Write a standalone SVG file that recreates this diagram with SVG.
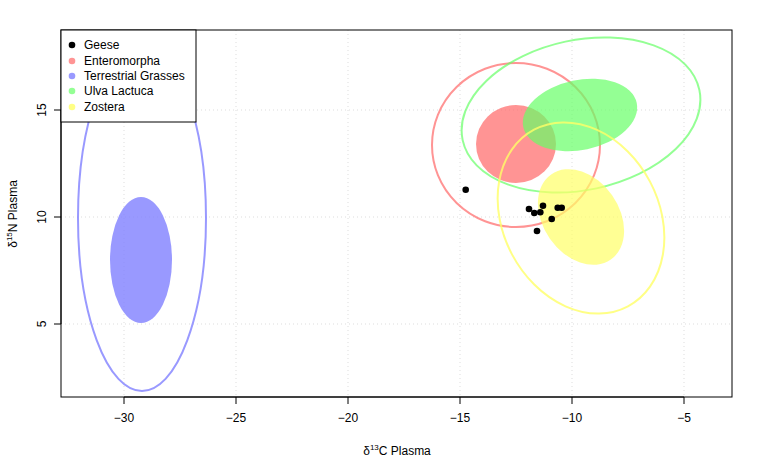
<svg xmlns="http://www.w3.org/2000/svg" width="763" height="458" viewBox="0 0 763 458">
<style>
text{font-family:"Liberation Sans",Arial,sans-serif;font-size:12px;fill:#000}
.g{stroke:#ddd;stroke-dasharray:1,3;stroke-width:1}
.t{stroke:#000;stroke-width:1}
.pt{fill:#000}
</style>
<rect width="763" height="458" fill="#fff"/>
<g id="grid">
<line class="g" x1="124" y1="30" x2="124" y2="397"/><line class="g" x1="236" y1="30" x2="236" y2="397"/><line class="g" x1="348" y1="30" x2="348" y2="397"/><line class="g" x1="460" y1="30" x2="460" y2="397"/><line class="g" x1="572" y1="30" x2="572" y2="397"/><line class="g" x1="684" y1="30" x2="684" y2="397"/>
<line class="g" x1="61" y1="110" x2="732" y2="110"/><line class="g" x1="61" y1="217" x2="732" y2="217"/><line class="g" x1="61" y1="324" x2="732" y2="324"/>
</g>
<g id="terrestrial">
<ellipse cx="141" cy="260" rx="31" ry="63" fill="#8080ff" fill-opacity="0.8"/>
<ellipse cx="142" cy="218" rx="64" ry="173" fill="none" stroke="#8080ff" stroke-width="2" stroke-opacity="0.8"/>
</g>
<g id="enteromorpha">
<ellipse cx="516" cy="144" rx="40" ry="39" fill="#ff6666" fill-opacity="0.7"/>
<ellipse cx="516" cy="145" rx="84" ry="82" fill="none" stroke="#ff6666" stroke-width="2" stroke-opacity="0.7"/>
</g>
<g id="ulva">
<ellipse cx="0" cy="0" rx="58" ry="35" transform="translate(580,115) rotate(-12)" fill="#66ff66" fill-opacity="0.7"/>
<ellipse cx="0" cy="0" rx="121" ry="75" transform="translate(581,115) rotate(-12)" fill="none" stroke="#66ff66" stroke-width="2" stroke-opacity="0.7"/>
</g>
<g id="zostera">
<ellipse cx="0" cy="0" rx="52" ry="38" transform="translate(581,217) rotate(55)" fill="#ffff66" fill-opacity="0.7"/>
<ellipse cx="0" cy="0" rx="100" ry="78" transform="translate(581,218) rotate(62)" fill="none" stroke="#ffff66" stroke-width="2" stroke-opacity="0.8"/>
</g>
<g id="geese" class="pt">
<circle cx="465.7" cy="189.7" r="3.3"/><circle cx="529" cy="209" r="3.3"/><circle cx="534.3" cy="213" r="3.3"/><circle cx="540.3" cy="212.3" r="3.3"/><circle cx="543" cy="205.7" r="3.3"/><circle cx="557.7" cy="207.7" r="3.3"/><circle cx="561.7" cy="207.7" r="3.3"/><circle cx="551.7" cy="219" r="3.3"/><circle cx="537" cy="231" r="3.3"/>
</g>
<g id="axes">
<rect x="61" y="30" width="671" height="367" fill="none" stroke="#000"/>
<line class="t" x1="124" y1="397" x2="684" y2="397"/>
<line class="t" x1="124" y1="397" x2="124" y2="404"/><line class="t" x1="236" y1="397" x2="236" y2="404"/><line class="t" x1="348" y1="397" x2="348" y2="404"/><line class="t" x1="460" y1="397" x2="460" y2="404"/><line class="t" x1="572" y1="397" x2="572" y2="404"/><line class="t" x1="684" y1="397" x2="684" y2="404"/>
<text x="124" y="422" text-anchor="middle">−30</text><text x="236" y="422" text-anchor="middle">−25</text><text x="348" y="422" text-anchor="middle">−20</text><text x="460" y="422" text-anchor="middle">−15</text><text x="572" y="422" text-anchor="middle">−10</text><text x="684" y="422" text-anchor="middle">−5</text>
<line class="t" x1="61" y1="110" x2="61" y2="324"/>
<line class="t" x1="54" y1="110" x2="61" y2="110"/><line class="t" x1="54" y1="217" x2="61" y2="217"/><line class="t" x1="54" y1="324" x2="61" y2="324"/>
<text transform="translate(46,110) rotate(-90)" text-anchor="middle">15</text>
<text transform="translate(46,217) rotate(-90)" text-anchor="middle">10</text>
<text transform="translate(46,324) rotate(-90)" text-anchor="middle">5</text>
<text x="397" y="455" text-anchor="middle">δ<tspan font-size="8" dy="-5">13</tspan><tspan dy="5">C Plasma</tspan></text>
<text transform="translate(17,214) rotate(-90)" text-anchor="middle">δ<tspan font-size="8" dy="-5">15</tspan><tspan dy="5">N Plasma</tspan></text>
</g>
<g id="legend">
<rect x="61" y="30" width="135" height="92" fill="#fff" stroke="#000"/>
<circle cx="72" cy="45" r="3.3" fill="#000"/><text x="84" y="49">Geese</text>
<circle cx="72" cy="61" r="3.3" fill="#ff6666" fill-opacity="0.7"/><text x="84" y="65">Enteromorpha</text>
<circle cx="72" cy="76" r="3.3" fill="#8080ff" fill-opacity="0.8"/><text x="84" y="80">Terrestrial Grasses</text>
<circle cx="72" cy="91" r="3.3" fill="#66ff66" fill-opacity="0.7"/><text x="84" y="95">Ulva Lactuca</text>
<circle cx="72" cy="107" r="3.3" fill="#ffff66" fill-opacity="0.8"/><text x="84" y="111">Zostera</text>
</g>
</svg>
